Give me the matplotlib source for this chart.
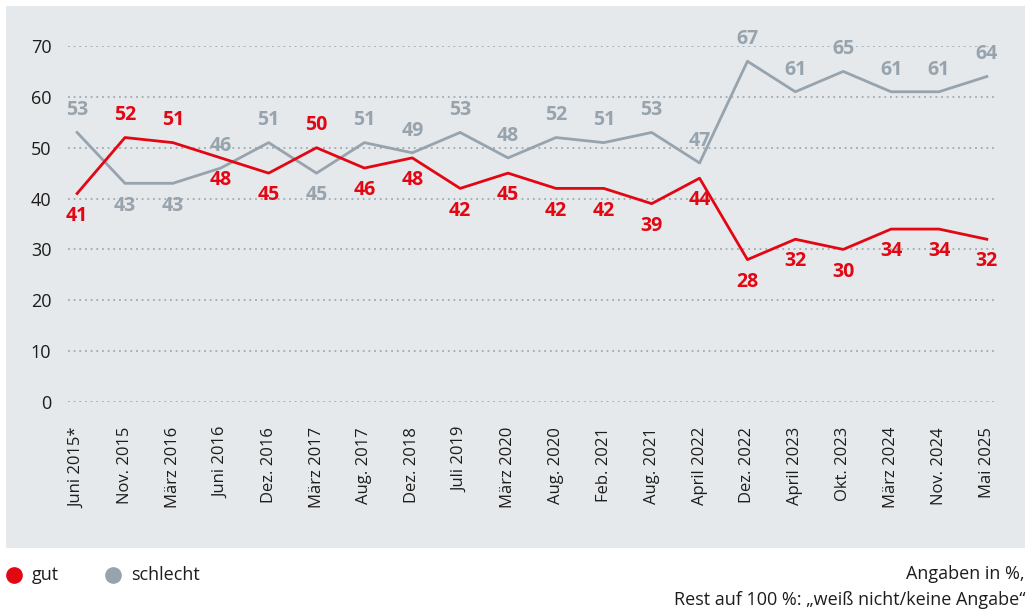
import matplotlib
matplotlib.use("Agg")
import matplotlib.pyplot as plt
from matplotlib.patches import Rectangle

plt.rcParams['font.family'] = ['Open Sans', 'DejaVu Sans']

categories = ['Juni 2015*', 'Nov. 2015', 'März 2016', 'Juni 2016', 'Dez. 2016',
              'März 2017', 'Aug. 2017', 'Dez. 2018', 'Juli 2019', 'März 2020',
              'Aug. 2020', 'Feb. 2021', 'Aug. 2021', 'April 2022', 'Dez. 2022',
              'April 2023', 'Okt. 2023', 'März 2024', 'Nov. 2024', 'Mai 2025']
gut = [41, 52, 51, 48, 45, 50, 46, 48, 42, 45, 42, 42, 39, 44, 28, 32, 30, 34, 34, 32]
schlecht = [53, 43, 43, 46, 51, 45, 51, 49, 53, 48, 52, 51, 53, 47, 67, 61, 65, 61, 61, 64]
y_ticks = [0, 10, 20, 30, 40, 50, 60, 70]

RED = '#e30613'
GRAY = '#97a3ad'
BG = '#e5e9ec'
TXT = '#1d1d1b'

# label above (+1) or below (-1) the point
gut_side = [-1, 1, 1, -1, -1, 1, -1, -1, -1, -1, -1, -1, -1, -1, -1, -1, -1, -1, -1, -1]
schlecht_side = [-s for s in gut_side]

W, H = 1028, 611
fig = plt.figure(figsize=(W / 100, H / 100), dpi=100)

# background layer in pixel coords (y down)
bg = fig.add_axes([0, 0, 1, 1], zorder=0)
bg.set_xlim(0, W)
bg.set_ylim(H, 0)
bg.axis('off')
bg.add_patch(Rectangle((6, 6), 1019, 542, facecolor=BG, edgecolor='none'))

# legend
bg.plot([14], [575], 'o', color=RED, markersize=11)
bg.text(32, 575, 'gut', fontsize=13, color=TXT, va='center')
bg.plot([113], [575], 'o', color=GRAY, markersize=11)
bg.text(131, 575, 'schlecht', fontsize=13, color=TXT, va='center')
bg.text(1025, 574, 'Angaben in %,', fontsize=13, color=TXT, ha='right', va='center')
bg.text(1025, 600, 'Rest auf 100 %: \u201eweiß nicht/keine Angabe\u201c',
        fontsize=13, color=TXT, ha='right', va='center')

ax = fig.add_axes([68 / W, (H - 402) / H, 927 / W, 356 / H], zorder=1)
ax.set_facecolor('none')
x = list(range(len(categories)))

for v in y_ticks:
    ax.axhline(v, color='#a0aab2', linestyle=(0, (1, 2.14)), linewidth=1.3, zorder=1)

ax.plot(x, schlecht, color=GRAY, linewidth=2.0, zorder=3, clip_on=False)
ax.plot(x, gut, color=RED, linewidth=2.0, zorder=4, clip_on=False)

for xi, v, s in zip(x, gut, gut_side):
    ax.annotate(str(v), (xi, v), xytext=(0, 16 * s), textcoords='offset points',
                ha='center', va='center', color=RED, fontsize=14, fontweight='bold')
for xi, v, s in zip(x, schlecht, schlecht_side):
    ax.annotate(str(v), (xi, v), xytext=(0, 16 * s), textcoords='offset points',
                ha='center', va='center', color=GRAY, fontsize=14, fontweight='bold')

ax.set_xlim(-0.19, 19.17)
ax.set_ylim(0, 70)
ax.set_xticks(x)
ax.set_xticklabels(categories, rotation=90, fontsize=12, color=TXT)
ax.set_yticks(y_ticks)
ax.set_yticklabels([str(v) for v in y_ticks], fontsize=13, color=TXT)
ax.tick_params(axis='x', length=0, pad=18)
ax.tick_params(axis='y', length=0, pad=12)
for sp in ax.spines.values():
    sp.set_visible(False)

fig.savefig('out.png', dpi=100)
